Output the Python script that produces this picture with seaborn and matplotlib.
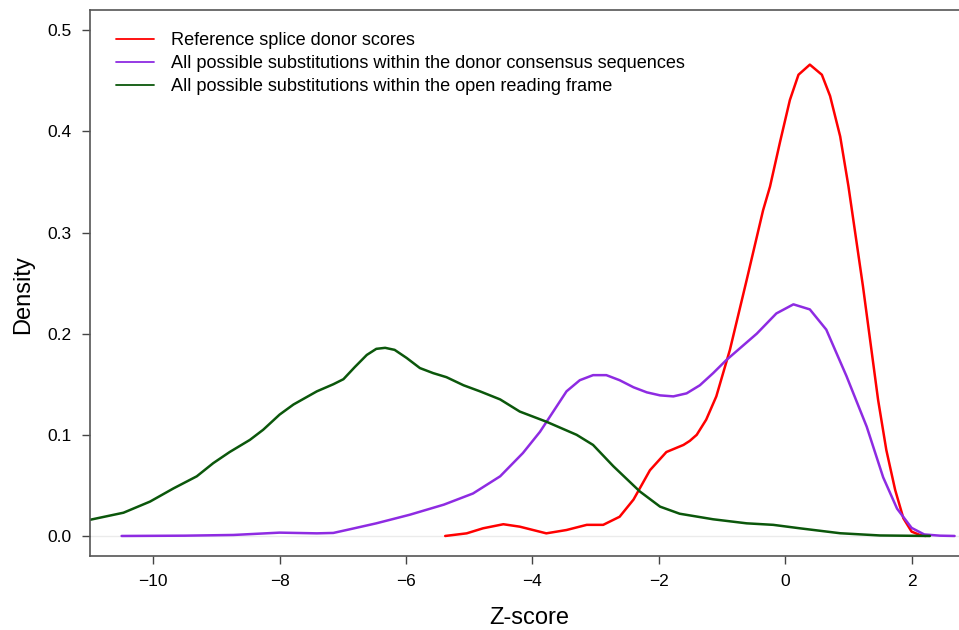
import numpy as np
import pandas as pd
import matplotlib
matplotlib.use("Agg")
import matplotlib.pyplot as plt
import seaborn as sns

# ---- data ----
series_names = [
    "Reference splice donor scores",
    "All possible substitutions within the donor consensus sequences",
    "All possible substitutions within the open reading frame",
]
series_colors = ["#ff0000", "#8e2be2", "#0b570b"]

ref_x = [-5.38, -5.04, -4.78, -4.46, -4.20, -3.78, -3.46, -3.14, -2.88, -2.62,
         -2.40, -2.14, -1.88, -1.61, -1.51, -1.40, -1.25, -1.09, -0.875, -0.61, -0.35,
         -0.24, -0.08, 0.074, 0.21, 0.39, 0.58, 0.71, 0.87, 1.00, 1.23,
         1.47, 1.60, 1.74, 1.87, 2.00, 2.13, 2.22]
ref_y = [0.0, 0.0026, 0.0076, 0.0116, 0.0092, 0.0026, 0.0059, 0.011, 0.011, 0.019,
         0.036, 0.065, 0.083, 0.090, 0.094, 0.100, 0.115, 0.138, 0.184, 0.253, 0.322,
         0.3455, 0.390, 0.431, 0.456, 0.466, 0.456, 0.435, 0.395, 0.346, 0.247,
         0.1345, 0.085, 0.0455, 0.0175, 0.0043, 0.001, 0.0]

don_x = [-10.5, -9.5, -8.73, -8.0, -7.41, -7.15, -6.89, -6.47, -5.94, -5.40,
         -4.94, -4.51, -4.15, -3.88, -3.67, -3.46, -3.25, -3.04, -2.83, -2.62,
         -2.40, -2.19, -1.98, -1.77, -1.56, -1.35, -1.14, -0.93, -0.45, -0.14,
         0.13, 0.39, 0.65, 0.97, 1.29, 1.55, 1.77, 2.00, 2.20, 2.45, 2.68]
don_y = [0.0, 0.0003, 0.001, 0.0033, 0.0026, 0.003, 0.0066, 0.0125, 0.021, 0.031,
         0.042, 0.059, 0.082, 0.103, 0.123, 0.143, 0.154, 0.159, 0.159, 0.154,
         0.147, 0.142, 0.139, 0.138, 0.141, 0.149, 0.161, 0.174, 0.200, 0.220,
         0.229, 0.224, 0.204, 0.158, 0.108, 0.058, 0.027, 0.008, 0.0015, 0.0003, 0.0]

orf_x = [-11.0, -10.47, -10.05, -9.68, -9.31, -9.05, -8.79, -8.47, -8.26, -8.00,
         -7.78, -7.41, -7.15, -6.99, -6.81, -6.62, -6.47, -6.33, -6.18, -5.99,
         -5.78, -5.57, -5.36, -5.09, -4.83, -4.51, -4.20, -3.78, -3.30, -3.04,
         -2.72, -2.30, -1.98, -1.67, -1.14, -0.61, -0.19, 0.23, 0.87, 1.50, 2.29]
orf_y = [0.016, 0.023, 0.034, 0.047, 0.059, 0.072, 0.083, 0.095, 0.105, 0.120,
         0.130, 0.143, 0.150, 0.155, 0.167, 0.179, 0.185, 0.186, 0.184, 0.176,
         0.166, 0.161, 0.157, 0.149, 0.143, 0.135, 0.123, 0.113, 0.100, 0.090,
         0.069, 0.044, 0.029, 0.022, 0.0165, 0.0125, 0.011, 0.0076, 0.0027, 0.0005, 0.0]

x_ticks = [-10, -8, -6, -4, -2, 0, 2]
y_ticks = [0.0, 0.1, 0.2, 0.3, 0.4, 0.5]

frames = []
for name, xs, ys in zip(series_names, [ref_x, don_x, orf_x], [ref_y, don_y, orf_y]):
    frames.append(pd.DataFrame({"z": xs, "density": ys, "series": name}))
df = pd.concat(frames, ignore_index=True)

sns.set_theme(style="white")
plt.rcParams["font.family"] = ["Liberation Sans", "DejaVu Sans"]
plt.rcParams["text.color"] = "black"
plt.rcParams["axes.labelcolor"] = "black"

fig = plt.figure(figsize=(9.59, 6.30), dpi=100)
ax = fig.add_axes([90 / 959, 1 - 556 / 630, 1 - 90 / 959, (556 - 10) / 630])

ax.axhline(0, color="#ebebeb", lw=1.0, zorder=0)
sns.lineplot(data=df, x="z", y="density", hue="series", hue_order=series_names,
             palette=series_colors, estimator=None, sort=False, linewidth=1.8,
             solid_joinstyle="round", solid_capstyle="round", ax=ax)

ax.set_xlim(-11.0, 2.75)
ax.set_ylim(-0.0198, 0.520)
ax.set_xticks(x_ticks)
ax.set_xticklabels([str(t).replace("-", "\u2212") for t in x_ticks])
ax.set_yticks(y_ticks)
ax.set_yticklabels([f"{t:.1f}" for t in y_ticks])
ax.tick_params(axis="both", which="major", direction="out", length=6, width=1.0,
               color="#444444", labelsize=12.5, labelcolor="black", pad=7,
               left=True, bottom=True)

for side in ["left", "bottom", "top"]:
    ax.spines[side].set_visible(True)
    ax.spines[side].set_color("#555555")
    ax.spines[side].set_linewidth(1.2)
ax.spines["right"].set_visible(False)

ax.set_xlabel("Z-score", fontsize=17, color="black")
ax.set_ylabel("Density", fontsize=17, color="black")
ax.xaxis.set_label_coords(0.505, -0.093)
ax.yaxis.set_label_coords(-0.064, 0.478)

handles, labels = ax.get_legend_handles_labels()
leg = ax.legend(handles, labels, loc="upper left",
                bbox_to_anchor=(116 / 959, 1 - 32 / 630), bbox_transform=fig.transFigure,
                frameon=False, fontsize=13.1, handlelength=2.1, handletextpad=0.9,
                labelspacing=0.34, borderpad=0, borderaxespad=0)
for line in leg.get_lines():
    line.set_linewidth(1.3)
for txt in leg.get_texts():
    txt.set_color("black")

fig.savefig("out.png", dpi=100)
